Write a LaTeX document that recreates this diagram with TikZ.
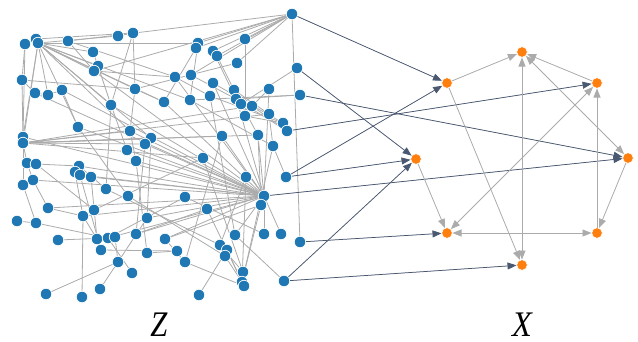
\documentclass[tikz,border=0pt]{standalone}
\usepackage{graphicx}
\usepackage{fontspec}
\newfontfamily\lblfont{Liberation Serif}
\usetikzlibrary{arrows.meta}
\pgfdeclarelayer{bg}
\pgfsetlayers{bg,main}
\definecolor{zblue}{HTML}{1F77B4}
\definecolor{xorange}{HTML}{FF7F0E}
\definecolor{slate}{HTML}{4A5870}
\definecolor{edgegray}{HTML}{ABABAB}
\tikzset{
  zn/.style={circle,fill=zblue,draw=white,line width=0.7pt,inner sep=0pt,minimum size=11.5pt},
  xn/.style={circle,fill=xorange,draw=white,line width=0.5pt,inner sep=0pt,minimum size=10.5pt},
  zedge/.style={draw=edgegray,line width=0.8pt},
  darrow/.style={draw=slate,line width=0.75pt,-{Triangle[length=9pt,width=7pt]},fill=slate},
  garrow/.style={draw=edgegray,line width=0.8pt,-{Triangle[length=9pt,width=7pt]}},
  gbiarrow/.style={draw=edgegray,line width=0.8pt,{Triangle[length=9pt,width=7pt]}-{Triangle[length=9pt,width=7pt]}},
  lbl/.style={inner sep=0pt,font=\lblfont\itshape\fontsize{36}{36}\selectfont}
}
\begin{document}
\begin{tikzpicture}[x=1pt,y=-1pt]
\useasboundingbox (0,0) rectangle (638,341);
% Z nodes
\foreach \n/\px/\py in {
1/25/44, 2/36/39, 3/38/43, 4/68/41, 5/118/36, 6/133/33, 7/93/52, 8/98/66, 9/94/71,
10/22/80, 11/35/93, 12/48/95, 13/62/90, 14/135/89, 15/111/105, 16/78/127, 17/130/131,
18/151/138, 19/145/144, 20/127/150, 21/23/137, 22/23/143, 23/292/14, 24/198/43, 25/196/48,
26/213/51, 27/217/56, 28/245/39, 29/237/63, 30/297/68, 31/175/77, 32/191/75, 33/213/83,
34/269/89, 35/300/95, 36/164/102, 37/190/100, 38/210/96, 39/234/90, 40/236/99, 41/241/104,
42/252/106, 43/245/116, 44/269/114, 45/283/123, 46/287/131, 47/222/136, 48/258/135,
49/273/146, 50/27/163, 51/36/164, 52/33/180, 53/23/185, 54/79/166, 55/75/172, 56/80/175,
57/91/177, 58/106/189, 59/136/161, 60/128/196, 61/48/208, 62/17/221, 63/36/223, 64/83/216,
65/94/210, 66/147/218, 67/58/240, 68/97/239, 69/108/238, 70/115/237, 71/136/234, 72/101/250,
73/147/253, 74/118/262, 75/132/273, 76/46/294, 77/100/289, 78/82/297, 79/203/158, 80/246/177,
81/286/177, 82/264/196, 83/261/205, 84/185/197, 85/207/209, 86/165/239, 87/235/235,
88/264/234, 89/281/234, 90/300/242, 91/177/251, 92/220/245, 93/227/250, 94/225/256,
95/185/262, 96/243/272, 97/242/282, 98/244/286, 99/284/281, 100/199/295}
  \node[zn] (z\n) at (\px,\py) {};
% X nodes
\node[xn] (xa) at (447,83) {};
\node[xn] (xb) at (522,52) {};
\node[xn] (xc) at (597,83) {};
\node[xn] (xd) at (628,158) {};
\node[xn] (xe) at (597,233) {};
\node[xn] (xf) at (522,265) {};
\node[xn] (xg) at (447,233) {};
\node[xn] (xh) at (416,159) {};
% gray edges within Z
\begin{pgfonlayer}{bg}
\foreach \a/\b in {
3/5,3/7,3/8,3/9,3/12,3/14,3/15,3/16,3/18,3/21,3/36,3/24,3/37,3/17,
2/6,1/21,1/10,4/9,4/31,
23/24,23/25,23/26,23/27,23/28,23/29,23/90,23/4,23/32,23/9,
22/17,22/18,22/19,22/47,22/48,22/79,22/10,22/50,22/42,22/44,22/3,
82/21,82/16,82/15,82/11,82/13,82/17,82/19,82/20,82/54,82/56,82/57,82/59,82/36,82/31,
82/64,82/61,82/69,82/71,82/66,82/86,82/33,82/39,82/47,82/48,82/87,82/88,82/89,82/34,82/9,82/52,
10/11,10/14,12/13,13/16,7/8,8/15,9/31,6/14,6/15,14/17,14/36,15/20,15/58,16/60,17/59,18/66,
19/71,24/37,25/36,26/40,27/41,28/43,29/14,31/38,32/40,33/45,34/42,37/49,38/87,39/44,40/46,
41/48,43/45,44/49,47/95,48/83,49/97,50/52,51/54,51/65,52/61,53/63,54/58,55/64,56/72,57/68,
58/92,59/73,60/94,61/64,62/63,63/69,64/68,65/79,66/74,67/69,68/72,69/84,70/74,71/85,73/91,
74/77,76/74,75/69,78/64,79/96,80/92,81/49,83/97,83/86,84/88,85/98,86/95,87/99,92/96,93/98,
94/97,95/98,100/93,97/80,30/41,35/40,35/37,46/42,45/38,53/21,72/91,11/12,5/6}
  \draw[zedge] (z\a.center) -- (z\b.center);
\end{pgfonlayer}
% Z to X arrows
\draw[darrow] (z23) -- (xa);
\draw[darrow] (z30) -- (xh);
\draw[darrow] (z35) -- (xd);
\draw[darrow] (z46) -- (xc);
\draw[darrow] (z81) -- (xa);
\draw[darrow] (z81) -- (xh);
\draw[darrow] (z82) -- (xd);
\draw[darrow] (z90) -- (xg);
\draw[darrow] (z99) -- (xh);
\draw[darrow] (z99) -- (xf);
% X internal arrows
\draw[garrow] (xa) -- (xb);
\draw[garrow] (xc) -- (xb);
\draw[gbiarrow] (xb) -- (xf);
\draw[garrow] (xa) -- (xf);
\draw[gbiarrow] (xb) -- (xd);
\draw[gbiarrow] (xc) -- (xg);
\draw[garrow] (xe) -- (xc);
\draw[garrow] (xd) -- (xe);
\draw[gbiarrow] (xg) -- (xe);
\draw[garrow] (xh) -- (xg);
% labels
\node[lbl] (lz) at (159,324.5) {\scalebox{0.85}[1]{Z}};
\node[lbl] (lx) at (522,324.5) {\scalebox{0.9}[1]{X}};
\end{tikzpicture}
\end{document}
